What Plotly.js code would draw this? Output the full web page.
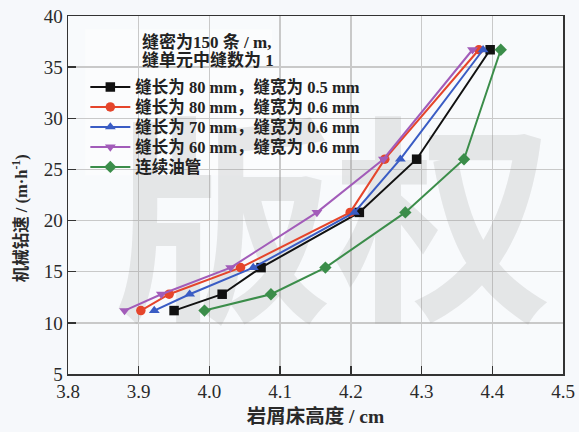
<!DOCTYPE html>
<html>
<head>
<meta charset="utf-8">
<script src="https://cdn.plot.ly/plotly-3.0.1.min.js"></script>
<style>
  html, body { margin: 0; padding: 0; background: #f6f8fb; }
  #chart { width: 579px; height: 432px; }
</style>
</head>
<body>
<div id="chart"></div>
<script>
// Rate of penetration (m/h) against cuttings-bed height (cm)
const ropValues = [11.2, 12.8, 15.4, 20.8, 26.0, 36.7];

const bedSlot80w05 = [3.950, 4.018, 4.073, 4.212, 4.293, 4.397];
const bedSlot80w06 = [3.903, 3.943, 4.044, 4.199, 4.248, 4.381];
const bedSlot70w06 = [3.922, 3.972, 4.062, 4.205, 4.270, 4.387];
const bedSlot60w06 = [3.880, 3.932, 4.030, 4.152, 4.246, 4.372];
const bedTubing    = [3.993, 4.087, 4.164, 4.277, 4.360, 4.412];

const seriesNames = [
  '缝长为 80 mm，缝宽为 0.5 mm',
  '缝长为 80 mm，缝宽为 0.6 mm',
  '缝长为 70 mm，缝宽为 0.6 mm',
  '缝长为 60 mm，缝宽为 0.6 mm',
  '连续油管'
];

const noteLines = ['缝密为150 条 / m,', '缝单元中缝数为 1'];
const watermarkText = ['版权'];
const xTitle = '岩屑床高度 / cm';
const yTitle = '机械钻速 / (m·h<sup>-1</sup>)';

const FONT = '"Liberation Serif", "Noto Sans CJK SC", serif';

const styles = [
  {color: '#111111', symbol: 'square'},
  {color: '#e5452b', symbol: 'circle'},
  {color: '#3a5cc4', symbol: 'triangle-up'},
  {color: '#a25cb9', symbol: 'triangle-down'},
  {color: '#3b8d4a', symbol: 'diamond'}
];
const xSets = [bedSlot80w05, bedSlot80w06, bedSlot70w06, bedSlot60w06, bedTubing];

const traces = [];
// faint background lettering
traces.push({
  x: [4.175], y: [17.2], text: watermarkText, mode: 'text', type: 'scatter',
  textfont: {family: '"Noto Sans CJK SC"', size: 220, color: 'rgba(150,150,150,0.2)', weight: 'bold'},
  cliponaxis: false, showlegend: false, hoverinfo: 'skip'
});
xSets.forEach((xs, i) => {
  traces.push({
    x: xs, y: ropValues, name: seriesNames[i], type: 'scatter', mode: 'lines+markers',
    line: {color: styles[i].color, width: 2},
    marker: {color: styles[i].color, symbol: styles[i].symbol, size: 9.5},
    cliponaxis: false, hoverinfo: 'skip'
  });
});

const noteFont = {family: FONT, size: 17, color: '#222222', weight: 'bold'};

const layout = {
  width: 579, height: 432,
  margin: {l: 68, r: 16, t: 16, b: 58},
  paper_bgcolor: '#f6f8fb',
  plot_bgcolor: '#f8fafc',
  showlegend: true,
  legend: {
    x: 0.035, y: 0.85, xanchor: 'left', yanchor: 'top',
    bgcolor: 'rgba(0,0,0,0)', borderwidth: 0,
    font: {family: FONT, size: 16.5, color: '#222222', weight: 'bold'},
    itemwidth: 40, tracegroupgap: 0
  },
  xaxis: {
    range: [3.8, 4.5], dtick: 0.1, tick0: 3.8, tickformat: '.1f',
    ticks: 'inside', ticklen: 8, tickwidth: 1.5, tickcolor: '#333333',
    showline: true, linecolor: '#333333', linewidth: 1.5, mirror: true,
    showgrid: true, gridcolor: '#c9c9c9', gridwidth: 1.3, zeroline: false,
    tickfont: {family: FONT, size: 19, color: '#2a2a2a'},
    title: {text: xTitle, font: {family: FONT, size: 19.5, color: '#2a2a2a', weight: 'bold'}, standoff: 8}
  },
  yaxis: {
    range: [5, 40], dtick: 5,
    ticks: 'inside', ticklen: 8, tickwidth: 1.5, tickcolor: '#333333',
    showline: true, linecolor: '#333333', linewidth: 1.5, mirror: true,
    showgrid: true, gridcolor: '#c9c9c9', gridwidth: 1.3, zeroline: false,
    tickfont: {family: FONT, size: 19, color: '#2a2a2a'}
  },
  shapes: [
    // white panels behind the note and the legend
    {type: 'rect', xref: 'paper', yref: 'paper', layer: 'between',
     x0: 0.035, x1: 0.412, y0: 0.855, y1: 0.963,
     fillcolor: '#fbfcfd', line: {width: 0}},
    {type: 'rect', xref: 'paper', yref: 'paper', layer: 'between',
     x0: 0.035, x1: 0.57, y0: 0.555, y1: 0.855,
     fillcolor: '#fbfcfd', line: {width: 0}}
  ],
  annotations: [
    {
      text: noteLines[0], xref: 'paper', yref: 'paper',
      x: 0.145, y: 0.926, xanchor: 'left', yanchor: 'middle',
      showarrow: false, font: noteFont
    },
    {
      text: noteLines[1], xref: 'paper', yref: 'paper',
      x: 0.145, y: 0.877, xanchor: 'left', yanchor: 'middle',
      showarrow: false, font: noteFont
    },
    {
      // y-axis title
      text: yTitle, xref: 'paper', yref: 'paper',
      x: -0.097, y: 0.435, xanchor: 'center', yanchor: 'middle', textangle: -90,
      showarrow: false,
      font: {family: FONT, size: 16.5, color: '#2a2a2a', weight: 'bold'}
    }
  ]
};

Plotly.newPlot('chart', traces, layout, {displayModeBar: false, staticPlot: true}).then(gd => {
  // tighten the legend rows to a 20px pitch
  const items = gd.querySelectorAll('.legend .traces');
  if (!items.length) return;
  const m = /translate\(\s*([-\d.]+)[ ,]+([-\d.]+)\s*\)/.exec(items[0].getAttribute('transform') || '');
  if (!m) return;
  const x0 = parseFloat(m[1]), y0 = parseFloat(m[2]);
  items.forEach((el, i) => el.setAttribute('transform', `translate(${x0},${y0 + i * 20})`));
});
</script>
</body>
</html>
